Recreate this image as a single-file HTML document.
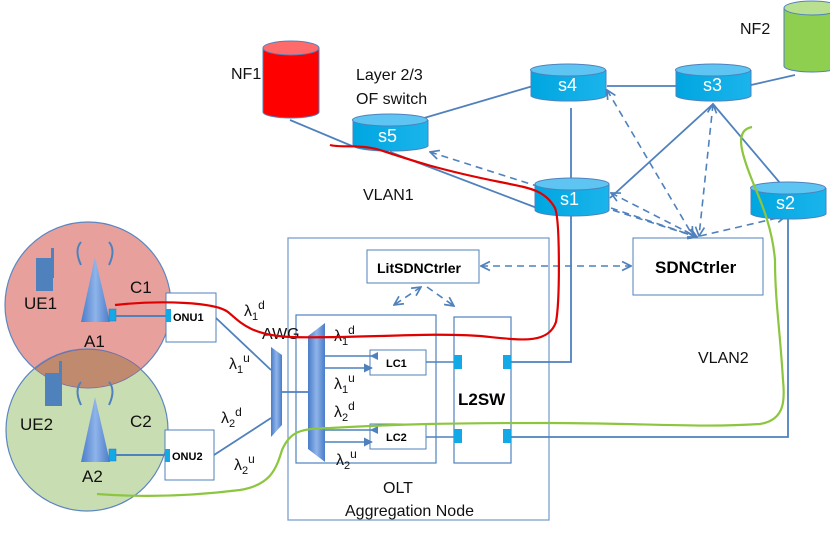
<!DOCTYPE html>
<html><head><meta charset="utf-8"><style>
html,body{margin:0;padding:0;background:#fff}
svg{display:block}
text{font-family:"Liberation Sans",sans-serif}
</style></head><body>
<svg width="830" height="534" viewBox="0 0 830 534" xmlns="http://www.w3.org/2000/svg">
<defs>
<linearGradient id="cyl" x1="0" x2="1"><stop offset="0" stop-color="#00a6e0"/><stop offset="1" stop-color="#1bb4ec"/></linearGradient>
<linearGradient id="tri" x1="0" x2="1"><stop offset="0" stop-color="#4a7cc8"/><stop offset="0.5" stop-color="#8fb4ea"/><stop offset="1" stop-color="#4a7cc8"/></linearGradient>
<marker id="ar" viewBox="0 0 10 10" refX="9" refY="5" markerWidth="7" markerHeight="7" orient="auto-start-reverse"><path d="M1,1 L9,5 L1,9" fill="none" stroke="#4f81bd" stroke-width="1.5"/></marker>
<marker id="at" viewBox="0 0 10 10" refX="9" refY="5" markerWidth="6" markerHeight="6" orient="auto"><path d="M0,0 L10,5 L0,10z" fill="#4f81bd"/></marker>
</defs>
<!-- circles -->
<circle cx="88" cy="305" r="83" fill="#e8a09d" stroke="#5b86c0" stroke-width="1.2"/>
<circle cx="87" cy="430" r="81" fill="#c9ddb2" stroke="#5b86c0" stroke-width="1.2"/>
<path d="M35,369 A81,81 0 0 1 141,369 A83,83 0 0 1 35,369z" fill="#c08a6f" stroke="#7a6aa0" stroke-width="0.8"/>
<!-- UE phones -->
<rect x="36" y="258" width="17" height="33" fill="#4f81bd"/><rect x="51" y="248" width="3" height="30" fill="#4f81bd"/>
<rect x="45" y="373" width="17" height="33" fill="#4f81bd"/><rect x="59" y="361" width="3" height="30" fill="#4f81bd"/>
<!-- antennas -->
<polygon points="95,257 81,322 110,322" fill="url(#tri)"/>
<polygon points="95,397 81,462 110,462" fill="url(#tri)"/>
<path d="M81,265 Q74,250 81,242 M109,265 Q116,250 109,242" fill="none" stroke="#4f81bd" stroke-width="2"/>
<path d="M81,405 Q74,390 81,382 M109,405 Q116,390 109,382" fill="none" stroke="#4f81bd" stroke-width="2"/>
<rect x="109" y="309" width="7" height="12" fill="#13a8e6" stroke="#2e75b6" stroke-width="0.5"/>
<rect x="109" y="449" width="7" height="12" fill="#13a8e6" stroke="#2e75b6" stroke-width="0.5"/>
<line x1="116" y1="316" x2="166" y2="316" stroke="#4f81bd" stroke-width="2"/>
<line x1="116" y1="455" x2="166" y2="455" stroke="#4f81bd" stroke-width="2"/>
<g font-size="17" fill="#111">
<text x="24" y="309">UE1</text><text x="130" y="293">C1</text><text x="84" y="347">A1</text>
<text x="20" y="430">UE2</text><text x="130" y="427">C2</text><text x="82" y="482">A2</text>
</g>
<!-- ONUs -->
<rect x="166" y="293" width="50" height="49" fill="#fff" stroke="#4f81bd"/>
<rect x="165" y="430" width="49" height="50" fill="#fff" stroke="#4f81bd"/>
<rect x="166" y="309" width="5" height="13" fill="#13a8e6"/><rect x="165" y="449" width="5" height="13" fill="#13a8e6"/>
<text x="173" y="321" font-size="11" font-weight="bold">ONU1</text>
<text x="172" y="460" font-size="11" font-weight="bold">ONU2</text>
<line x1="216" y1="318" x2="271" y2="370" stroke="#4f81bd" stroke-width="1.8"/>
<line x1="214" y1="455" x2="271" y2="418" stroke="#4f81bd" stroke-width="1.8"/>
<!-- Aggregation node -->
<rect x="288" y="238" width="261" height="282" fill="none" stroke="#7ba0d0" stroke-width="1.3"/>
<rect x="296" y="315" width="140" height="148" fill="none" stroke="#4f81bd" stroke-width="1.2"/>
<rect x="454" y="317" width="57" height="146" fill="none" stroke="#4f81bd" stroke-width="1.2"/>
<!-- AWGs -->
<polygon points="271,347 282,355 282,425 271,437" fill="url(#tri)"/>
<line x1="282" y1="392" x2="308" y2="392" stroke="#4f81bd" stroke-width="1.8"/>
<polygon points="308,336 325,323 325,462 308,449" fill="url(#tri)"/>
<!-- LCs -->
<rect x="370" y="350" width="56" height="25" fill="#fff" stroke="#4f81bd"/>
<rect x="370" y="424" width="56" height="25" fill="#fff" stroke="#4f81bd"/>
<text x="386" y="367" font-size="11" font-weight="bold">LC1</text>
<text x="386" y="441" font-size="11" font-weight="bold">LC2</text>
<line x1="373" y1="356" x2="325" y2="356" stroke="#4f81bd" stroke-width="1.5"/>
<polygon points="370,356 378,352 378,360" fill="#4f81bd"/>
<line x1="325" y1="368" x2="372" y2="368" stroke="#4f81bd" stroke-width="1.5" marker-end="url(#at)"/>
<line x1="373" y1="430" x2="325" y2="430" stroke="#4f81bd" stroke-width="1.5"/>
<polygon points="370,430 378,426 378,434" fill="#4f81bd"/>
<line x1="325" y1="442" x2="372" y2="442" stroke="#4f81bd" stroke-width="1.5" marker-end="url(#at)"/>
<line x1="426" y1="362" x2="456" y2="362" stroke="#4f81bd" stroke-width="1.5"/>
<line x1="426" y1="437" x2="456" y2="437" stroke="#4f81bd" stroke-width="1.5"/>
<rect x="454" y="355" width="8" height="14" fill="#13a8e6"/><rect x="503" y="355" width="8" height="14" fill="#13a8e6"/>
<rect x="454" y="429" width="8" height="14" fill="#13a8e6"/><rect x="503" y="429" width="8" height="14" fill="#13a8e6"/>
<text x="458" y="405" font-size="17" font-weight="bold">L2SW</text>
<path d="M511,362 L571,362 L571,212" fill="none" stroke="#4f81bd" stroke-width="1.8"/>
<path d="M511,437 L788,437 L788,214" fill="none" stroke="#4f81bd" stroke-width="1.8"/>
<!-- controllers -->
<rect x="367" y="250" width="112" height="33" fill="#fff" stroke="#4f81bd"/>
<text x="377" y="273" font-size="14" font-weight="bold">LitSDNCtrler</text>
<rect x="633" y="238" width="130" height="57" fill="#fff" stroke="#4f81bd"/>
<text x="655" y="273" font-size="17" font-weight="bold">SDNCtrler</text>
<g stroke="#4f81bd" stroke-width="1.6" stroke-dasharray="7,5" fill="none" marker-start="url(#ar)" marker-end="url(#ar)">
<line x1="481" y1="266" x2="631" y2="266"/>
<path d="M421,287 L394,305"/>
<path d="M427,287 L454,306" marker-start="none"/>
<line x1="430" y1="152" x2="697" y2="237"/>
<line x1="611" y1="193" x2="697" y2="237"/>
<line x1="611" y1="208" x2="697" y2="237" marker-start="none"/>
<line x1="607" y1="90" x2="693" y2="236"/>
<line x1="713" y1="104" x2="699" y2="236"/>
<line x1="700" y1="236" x2="786" y2="216" marker-start="none"/>
</g>
<!-- network links -->
<g stroke="#4f81bd" stroke-width="1.8">
<line x1="290" y1="120" x2="352" y2="146"/>
<line x1="390" y1="128" x2="533" y2="86"/>
<line x1="390" y1="152" x2="537" y2="208"/>
<line x1="571" y1="108" x2="571" y2="184"/>
<line x1="607" y1="86" x2="676" y2="86"/>
<line x1="751" y1="85" x2="795" y2="75"/>
<line x1="713" y1="104" x2="610" y2="198"/>
<line x1="713" y1="104" x2="786" y2="190"/>
</g>
<!-- cylinders -->
<g stroke="#4f81bd" stroke-width="1">
<path d="M353,120 v26 a38,6 0 0 0 75,0 v-26" fill="url(#cyl)"/><ellipse cx="390" cy="120" rx="37.5" ry="6" fill="#5ec5f2"/>
<path d="M531,70 v26 a38,6 0 0 0 75,0 v-26" fill="url(#cyl)"/><ellipse cx="568" cy="70" rx="37.5" ry="6" fill="#5ec5f2"/>
<path d="M676,70 v26 a38,6 0 0 0 75,0 v-26" fill="url(#cyl)"/><ellipse cx="713" cy="70" rx="37.5" ry="6" fill="#5ec5f2"/>
<path d="M535,184 v26 a37,6 0 0 0 74,0 v-26" fill="url(#cyl)"/><ellipse cx="572" cy="184" rx="37" ry="6" fill="#5ec5f2"/>
<path d="M751,188 v26 a38,6 0 0 0 75,0 v-26" fill="url(#cyl)"/><ellipse cx="788" cy="188" rx="37.5" ry="6" fill="#5ec5f2"/>
<path d="M263,48 v64 a28,6 0 0 0 56,0 v-64" fill="#f00"/><ellipse cx="291" cy="48" rx="28" ry="7" fill="#ff6b6b"/>
<path d="M784,8 v58 a28,6 0 0 0 56,0 v-58" fill="#8fcf50"/><ellipse cx="812" cy="8" rx="28" ry="7" fill="#b8e090"/>
</g>
<g font-size="18" fill="#fff">
<text x="378" y="142">s5</text><text x="558" y="91">s4</text><text x="703" y="91">s3</text><text x="560" y="205">s1</text><text x="776" y="209">s2</text>
</g>
<g font-size="16" fill="#111">
<text x="231" y="79">NF1</text><text x="740" y="34">NF2</text>
<text x="356" y="80">Layer 2/3</text><text x="356" y="104">OF switch</text>
<text x="363" y="200">VLAN1</text><text x="698" y="363">VLAN2</text>
<text x="262" y="339">AWG</text>
<text x="383" y="493">OLT</text><text x="345" y="516">Aggregation Node</text>
</g>
<!-- lambdas -->
<g font-size="16" fill="#111" font-family="'DejaVu Serif',serif">
<text x="244" y="316">λ<tspan font-size="11" dy="4">1</tspan><tspan font-size="12" dy="-11">d</tspan></text>
<text x="229" y="369">λ<tspan font-size="11" dy="4">1</tspan><tspan font-size="12" dy="-11">u</tspan></text>
<text x="221" y="423">λ<tspan font-size="11" dy="4">2</tspan><tspan font-size="12" dy="-11">d</tspan></text>
<text x="234" y="470">λ<tspan font-size="11" dy="4">2</tspan><tspan font-size="12" dy="-11">u</tspan></text>
<text x="334" y="341">λ<tspan font-size="11" dy="4">1</tspan><tspan font-size="12" dy="-11">d</tspan></text>
<text x="334" y="389">λ<tspan font-size="11" dy="4">1</tspan><tspan font-size="12" dy="-11">u</tspan></text>
<text x="334" y="417">λ<tspan font-size="11" dy="4">2</tspan><tspan font-size="12" dy="-11">d</tspan></text>
<text x="336" y="465">λ<tspan font-size="11" dy="4">2</tspan><tspan font-size="12" dy="-11">u</tspan></text>
</g>
<!-- VLAN curves -->
<path d="M115,305 C160,300 215,302 228,312 C240,322 250,335 290,337 C350,339 430,332 480,336 C520,340 548,345 556,322 C560,300 560,220 555,208 C545,190 530,188 500,182 C440,170 410,160 380,150 C360,144 340,148 330,145" fill="none" stroke="#e00000" stroke-width="2.2"/>
<path d="M97,494 C150,498 200,495 240,490 C270,485 276,470 282,450 C290,432 300,428 330,428 C400,424 450,423 550,423 C640,423 700,428 760,424 C785,420 785,400 783,380 C780,330 775,300 775,260 C772,225 760,200 752,180 C740,150 735,130 752,127" fill="none" stroke="#8cc63f" stroke-width="2.2"/>
</svg>
</body></html>
